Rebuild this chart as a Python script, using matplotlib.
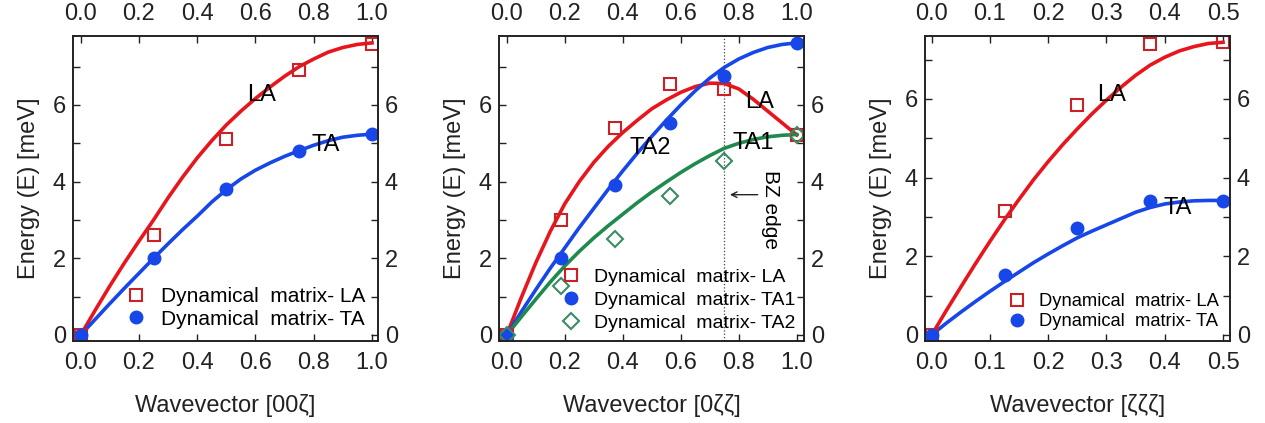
import numpy as np
import matplotlib
matplotlib.use('Agg')
import matplotlib.pyplot as plt
from matplotlib.ticker import MultipleLocator, FormatStrFormatter

plt.rcParams['font.family'] = ['Liberation Sans', 'DejaVu Sans']

RED = '#e8161c'
RED_EDGE = '#cc2027'
BLUE = '#1747e8'
GREEN = '#1f8a4e'
GREEN_EDGE = '#3b8b64'

# ---- [00z] direction ----
q1 = [0.0, 0.25, 0.5, 0.75, 1.0]
la1_pts = [0.0, 2.6, 5.1, 6.9, 7.6]
ta1_pts = [0.0, 2.0, 3.8, 4.8, 5.25]
q1_fit = [0.0, 0.05, 0.1, 0.15, 0.2, 0.25, 0.3, 0.35, 0.4, 0.45, 0.5,
          0.55, 0.6, 0.65, 0.7, 0.75, 0.8, 0.85, 0.9, 0.95, 1.0]
la1_fit = [0.0, 0.65, 1.28, 1.88, 2.45, 3.0, 3.58, 4.12, 4.62, 5.07, 5.48,
           5.84, 6.17, 6.47, 6.75, 7.0, 7.2, 7.38, 7.5, 7.58, 7.62]
ta1_fit = [0.0, 0.41, 0.82, 1.22, 1.61, 2.0, 2.38, 2.75, 3.1, 3.47, 3.79,
           4.07, 4.3, 4.49, 4.66, 4.81, 4.95, 5.07, 5.16, 5.21, 5.24]

# ---- [0zz] direction ----
q2 = [0.0, 0.1875, 0.375, 0.5625, 0.75, 1.0]
la2_pts = [0.0, 3.0, 5.39, 6.55, 6.41, 5.22]
ta2a_pts = [0.0, 2.02, 3.92, 5.53, 6.76, 7.62]
ta2b_pts = [0.0, 1.28, 2.51, 3.63, 4.55, 5.22]
q2_fit = q1_fit
la2_fit = [0.0, 0.97, 1.88, 2.7, 3.42, 4.0, 4.5, 4.92, 5.28, 5.6, 5.9,
           6.13, 6.33, 6.48, 6.57, 6.56, 6.42, 6.15, 5.84, 5.53, 5.22]
ta2a_fit = [0.0, 0.6, 1.18, 1.74, 2.27, 2.8, 3.3, 3.8, 4.28, 4.74, 5.18,
            5.6, 6.0, 6.37, 6.7, 6.98, 7.2, 7.37, 7.5, 7.58, 7.62]
ta2b_fit = [0.0, 0.47, 0.93, 1.38, 1.8, 2.18, 2.53, 2.85, 3.15, 3.45, 3.73,
            3.99, 4.24, 4.47, 4.68, 4.87, 5.0, 5.1, 5.17, 5.21, 5.23]
bz_edge = 0.75

# ---- [zzz] direction ----
q3 = [0.0, 0.125, 0.25, 0.375, 0.5]
la3_pts = [0.0, 3.16, 5.84, 7.40, 7.44]
ta3_pts = [0.0, 1.53, 2.73, 3.41, 3.41]
q3_fit = [0.0, 0.025, 0.05, 0.075, 0.1, 0.125, 0.15, 0.175, 0.2, 0.225, 0.25,
          0.275, 0.3, 0.325, 0.35, 0.375, 0.4, 0.425, 0.45, 0.475, 0.5]
la3_fit = [0.0, 0.62, 1.22, 1.81, 2.38, 2.93, 3.45, 3.95, 4.41, 4.84, 5.24,
           5.62, 5.97, 6.3, 6.6, 6.86, 7.06, 7.22, 7.33, 7.41, 7.44]
ta3_fit = [0.0, 0.3, 0.58, 0.85, 1.11, 1.36, 1.6, 1.84, 2.06, 2.27, 2.47,
           2.64, 2.8, 2.96, 3.12, 3.24, 3.33, 3.38, 3.41, 3.42, 3.42]

fig = plt.figure(figsize=(12.65, 4.23), dpi=100)
W, H = 1265.0, 423.0


def make_axes(left_px, xlim, ylim, xstep, xlabel):
    ax = fig.add_axes([left_px / W, (H - 341) / H, 305 / W, 305 / H])
    ax.set_xlim(*xlim)
    ax.set_ylim(*ylim)
    ax.xaxis.set_major_locator(MultipleLocator(xstep))
    ax.yaxis.set_major_locator(MultipleLocator(2))
    ax.yaxis.set_minor_locator(MultipleLocator(1))
    ax.tick_params(which='both', direction='in', top=True, right=True,
                   labeltop=True, labelright=True, labelsize=17,
                   colors='#222222', width=1.0, length=5)
    ax.tick_params(axis='x', pad=8)
    ax.tick_params(axis='y', pad=5)
    for sp in ax.spines.values():
        sp.set_linewidth(1.4)
        sp.set_color('#222222')
    ax.xaxis.set_major_formatter(FormatStrFormatter('%.1f'))
    ax.set_xlabel(xlabel, fontsize=17, labelpad=14, color='#222222')
    ax.set_ylabel('Energy (E) [meV]', fontsize=17, labelpad=9, color='#222222')
    return ax


def sq(ax, x, y, label):
    ax.plot(x, y, 's', ms=9, mfc='none', mec=RED_EDGE, mew=1.5, label=label)


def dot(ax, x, y, label):
    ax.plot(x, y, 'o', ms=9, color=BLUE, label=label)


def add_legend(ax, size, spacing, pad=0.2):
    ax.legend(loc='lower right', bbox_to_anchor=(1.0, 0.0), frameon=False,
              fontsize=size, handlelength=1.0, handletextpad=0.7,
              labelspacing=spacing, borderaxespad=pad)


# panel 1
ax1 = make_axes(73, (-0.0265, 1.0206), (-0.157, 7.80), 0.2, 'Wavevector [00ζ]')
ax1.plot(q1_fit, la1_fit, color=RED, lw=2.6)
ax1.plot(q1_fit, ta1_fit, color=BLUE, lw=2.6)
sq(ax1, q1, la1_pts, 'Dynamical  matrix- LA')
dot(ax1, q1, ta1_pts, 'Dynamical  matrix- TA')
ax1.text(0.62, 6.27, 'LA', fontsize=17, ha='center', va='center')
ax1.text(0.84, 4.96, 'TA', fontsize=17, ha='center', va='center')
add_legend(ax1, 15, 0.15)

# panel 2
ax2 = make_axes(499, (-0.0266, 1.025), (-0.157, 7.80), 0.2, 'Wavevector [0ζζ]')
ax2.axvline(bz_edge, color='#444444', lw=0.9, ls=':')
ax2.plot(q2_fit, la2_fit, color=RED, lw=2.6)
ax2.plot(q2_fit, ta2a_fit, color=BLUE, lw=2.6)
ax2.plot(q2_fit, ta2b_fit, color=GREEN, lw=2.6)
sq(ax2, q2, la2_pts, 'Dynamical  matrix- LA')
dot(ax2, q2, ta2a_pts, 'Dynamical  matrix- TA1')
ax2.plot(q2, ta2b_pts, 'D', ms=8, mfc='none', mec=GREEN_EDGE, mew=1.5,
         label='Dynamical  matrix- TA2')
ax2.text(0.873, 6.09, 'LA', fontsize=17, ha='center', va='center')
ax2.text(0.494, 4.87, 'TA2', fontsize=17, ha='center', va='center')
ax2.text(0.85, 5.0, 'TA1', fontsize=17, ha='center', va='center')
ax2.text(0.91, 3.28, 'BZ edge', fontsize=15, rotation=-90,
         ha='center', va='center')
ax2.annotate('', xy=(0.76, 3.66), xytext=(0.875, 3.66),
             arrowprops=dict(arrowstyle='->', color='#222222', lw=1.0))
add_legend(ax2, 14, 0.28, pad=0.05)

# panel 3
ax3 = make_axes(925, (-0.0115, 0.512), (-0.153, 7.60), 0.1, 'Wavevector [ζζζ]')
ax3.plot(q3_fit, la3_fit, color=RED, lw=2.6)
ax3.plot(q3_fit, ta3_fit, color=BLUE, lw=2.6)
sq(ax3, q3, la3_pts, 'Dynamical  matrix- LA')
dot(ax3, q3, ta3_pts, 'Dynamical  matrix- TA')
ax3.text(0.309, 6.1, 'LA', fontsize=17, ha='center', va='center')
ax3.text(0.423, 3.22, 'TA', fontsize=17, ha='center', va='center')
add_legend(ax3, 13.2, 0.15)

fig.savefig('out.png', dpi=100)
